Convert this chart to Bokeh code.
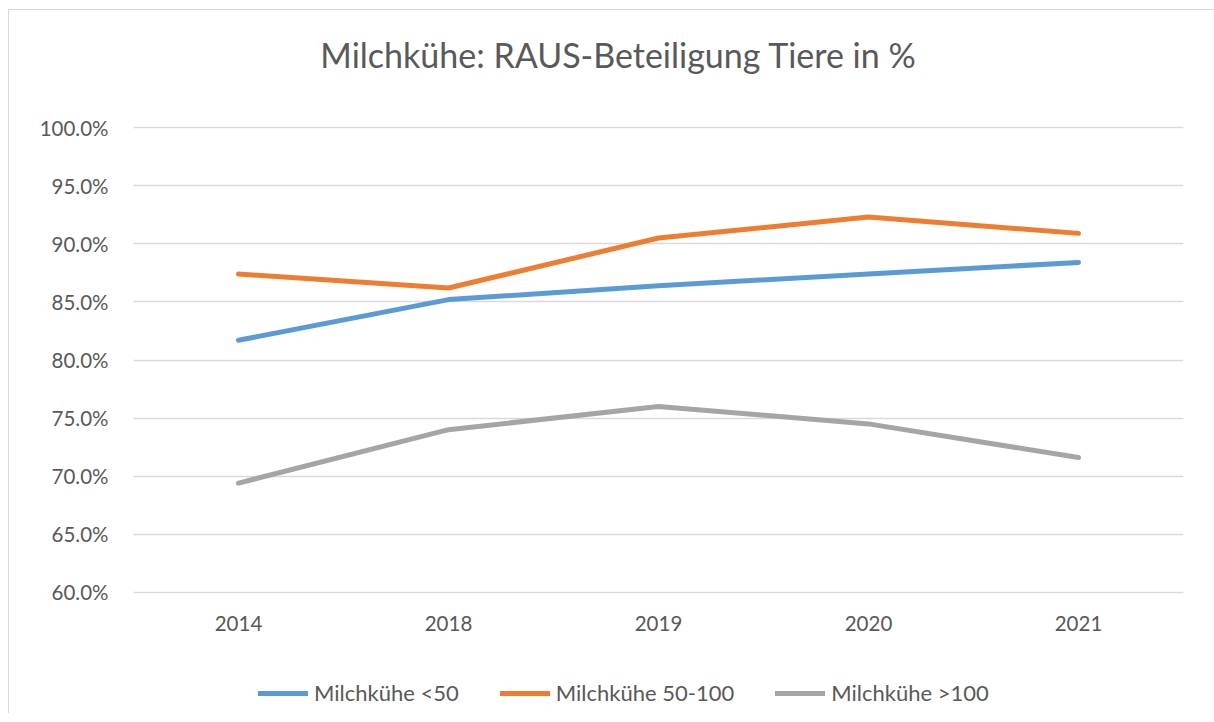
from bokeh.plotting import figure
from bokeh.layouts import column
from bokeh.models import Range1d, FactorRange, PrintfTickFormatter, SingleIntervalTicker, Legend, LegendItem, Label
from bokeh.embed import file_html
from bokeh.resources import INLINE

years = ["2014", "2018", "2019", "2020", "2021"]
small = [81.7, 85.2, 86.4, 87.4, 88.4]
medium = [87.4, 86.2, 90.5, 92.3, 90.9]
large = [69.4, 74.0, 76.0, 74.5, 71.6]
names = ["Milchkühe <50", "Milchkühe 50-100", "Milchkühe >100"]
colors = ["#5B9BD5", "#ED7D31", "#A5A5A5"]
title_text = "Milchkühe: RAUS-Beteiligung Tiere in %"

FONT = "Lato"
TXT = "#595959"
W = 1205
NAN = float("nan")


def strip(h):
    f = figure(x_range=Range1d(0, 1), y_range=Range1d(0, 1), width=W, height=h,
               output_backend="svg", toolbar_location=None, min_border=0)
    f.axis.visible = False
    f.grid.visible = False
    f.outline_line_color = None
    return f


# title strip
tf = strip(102)
tf.add_layout(Label(x=485, y=58, x_units="screen", y_units="screen", text=title_text,
                    text_font=FONT, text_font_size="34px", text_color=TXT,
                    text_align="center", text_baseline="middle"))

# main chart (range padded a hair so the 60% and 100% grid lines are not clipped)
p = figure(x_range=FactorRange(*years, range_padding=0), y_range=Range1d(59.9, 100.1),
           width=W, height=539, output_backend="svg", toolbar_location=None,
           min_border_left=124, min_border_right=31, min_border_top=14, min_border_bottom=58)
p.outline_line_color = None

for vals, col in zip([small, medium, large], colors):
    p.line(years, vals, line_color=col, line_width=5, line_cap="round", line_join="round")

p.yaxis.ticker = SingleIntervalTicker(interval=5)
p.yaxis.formatter = PrintfTickFormatter(format="%.1f%%")
for ax in [p.xaxis[0], p.yaxis[0]]:
    ax.axis_line_color = None
    ax.major_tick_line_color = None
    ax.minor_tick_line_color = None
    ax.major_label_text_font = FONT
    ax.major_label_text_font_size = "20.5px"
    ax.major_label_text_color = TXT
p.yaxis.major_label_standoff = 19
p.xaxis.major_label_standoff = 16
p.xgrid.grid_line_color = None
p.ygrid.grid_line_color = "#D9D9D9"
p.ygrid.grid_line_width = 1.5

# legend strip
lf = strip(62)
items = []
for name, col in zip(names, colors):
    r = lf.line([NAN], [NAN], line_color=col, line_width=5, line_cap="round")
    items.append(LegendItem(label=name, renderers=[r]))
leg = Legend(items=items, orientation="horizontal", location=(125, 7),
             label_text_font=FONT, label_text_font_size="22px", label_text_color=TXT,
             glyph_width=50, glyph_height=20, label_standoff=6, spacing=41,
             border_line_color=None, background_fill_alpha=0, padding=0, margin=0)
lf.add_layout(leg, "center")

layout = column(tf, p, lf, styles={"border-left": "1px solid #D9D9D9", "border-top": "1px solid #D9D9D9",
                                   "margin-left": "8px", "margin-top": "9px"})
open("out.html", "w").write(file_html(layout, INLINE))
